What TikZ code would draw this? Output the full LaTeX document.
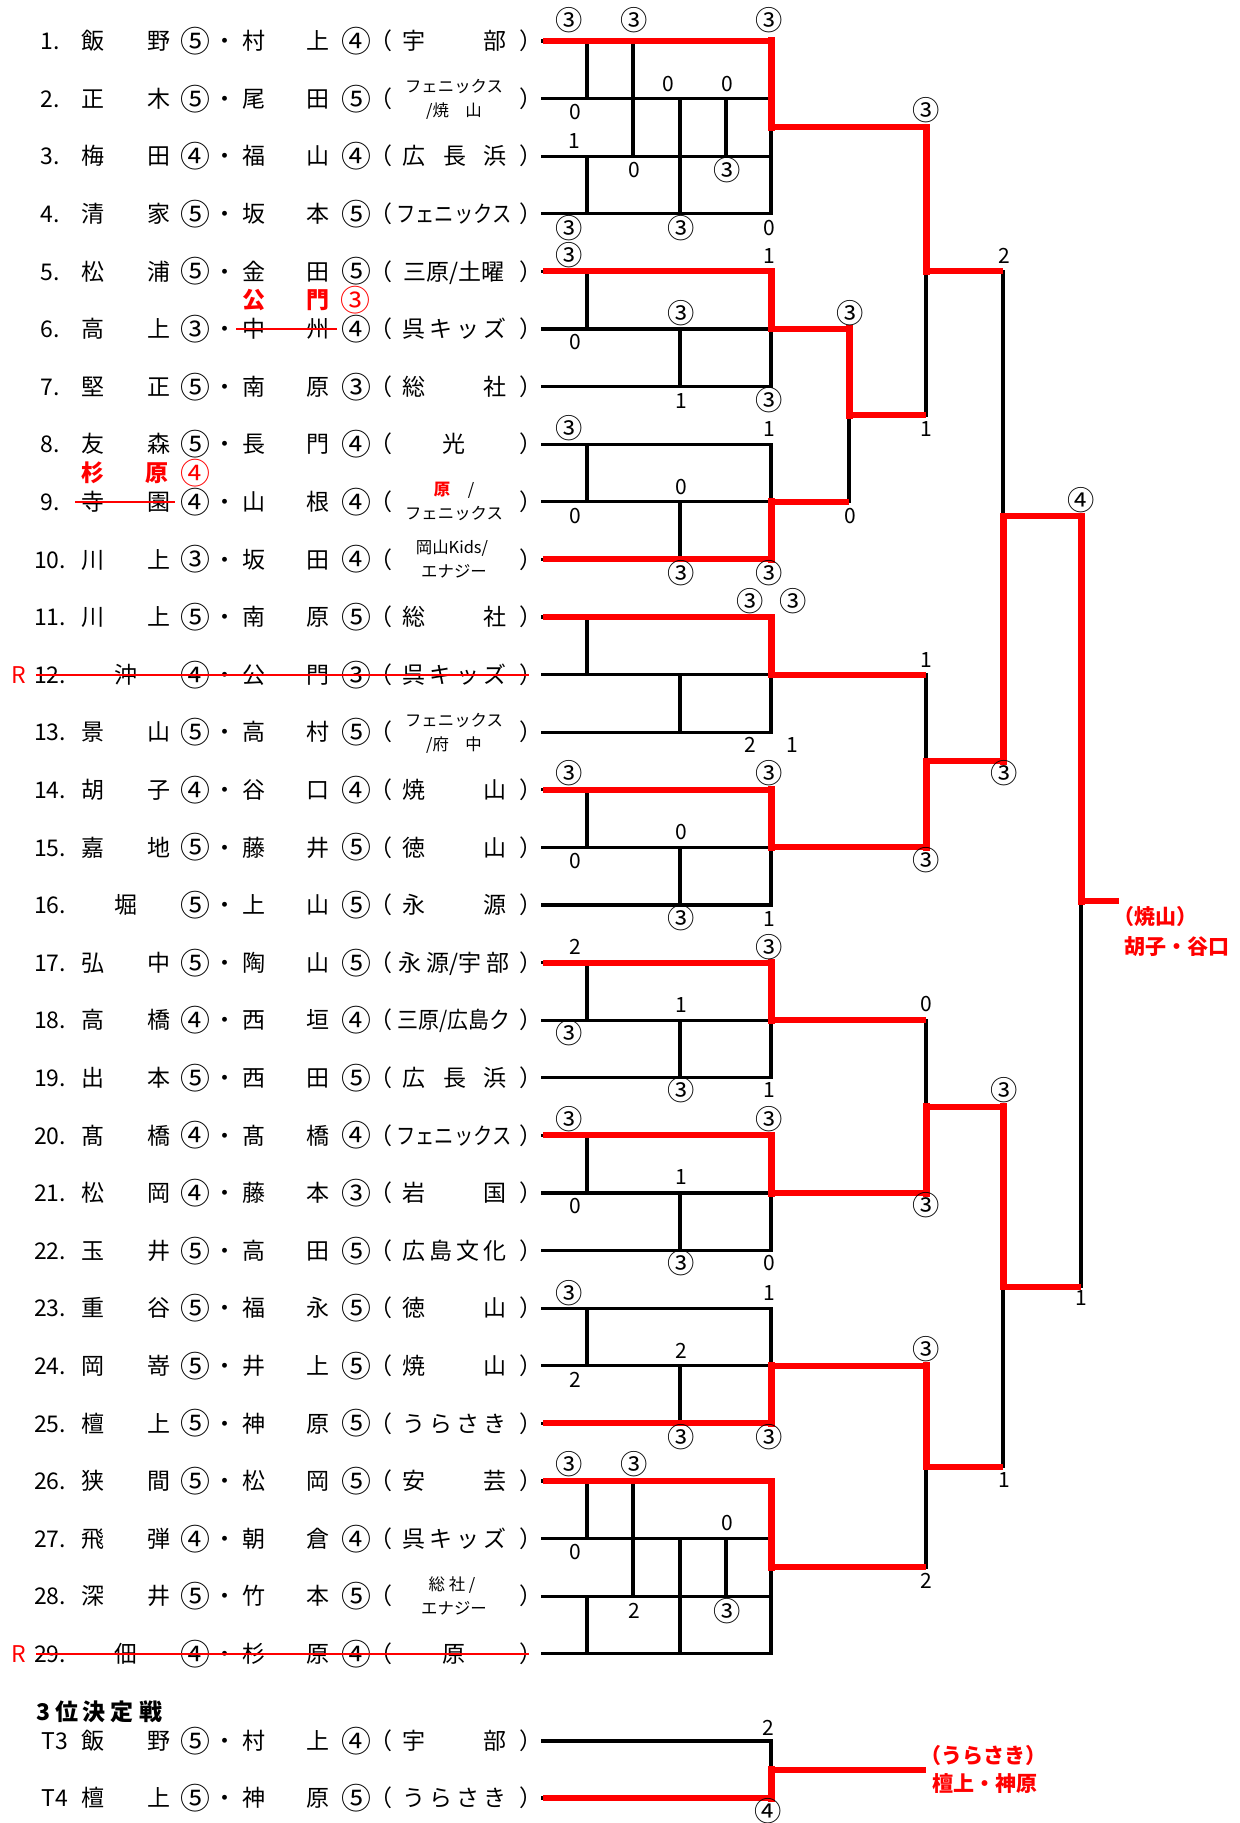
\documentclass[tikz,border=0pt]{standalone}
\usepackage{fontspec}
\setmainfont{Noto Sans CJK JP}
\usetikzlibrary{calc}

\definecolor{winred}{RGB}{255,0,0}
\newcommand\cc[1]{\raisebox{-0.12em}{\scalebox{1.3}{#1}}}

\tikzset{
  bline/.style={line width=1.6pt, line cap=rect},
  rh/.style={line width=3pt, draw=winred},
  rv/.style={line width=3.5pt, draw=winred, line cap=rect},
  strike/.style={line width=1pt, draw=winred},
  txt/.style={inner sep=0pt, text height=10.1pt, text depth=1.4pt,
    font=\fontsize{11.5}{13}\selectfont},
  score/.style={inner sep=0pt, text height=9.2pt, text depth=1.3pt,
    font=\fontsize{10.5}{12}\selectfont},
  small/.style={inner sep=0pt, text height=7.2pt, text depth=1pt,
    font=\fontsize{8.2}{9}\selectfont},
  fix/.style={txt, text=winred, font=\fontsize{11.5}{13}\selectfont\bfseries},
  result/.style={inner sep=0pt, anchor=west, text=winred,
    font=\fontsize{10.5}{12}\selectfont\bfseries},
}

\begin{document}
\begin{tikzpicture}[x=0.5pt,y=-0.5pt]
\useasboundingbox (0,0) rectangle (1239,1823);

% row ends (30 = T3, 31 = T4)
\foreach \rw in {1,...,31}{
  \pgfmathsetmacro\y{\rw<30 ? 41+(\rw-1)*57.6 : (\rw==30 ? 1741 : 1798)}
  \coordinate (l\rw) at (543,\y);
  \coordinate (g\rw) at (771,\y);
}
\coordinate (m1) at (587,0);
\coordinate (m2) at (633,0);
\coordinate (m3) at (680,0);
\coordinate (m4) at (726,0);
\coordinate (k2) at (849,0);
\coordinate (k3) at (926,0);
\coordinate (k4) at (1003,0);
\coordinate (k5) at (1081,0);
\coordinate (kw) at (1119,0);

% winners leave the leagues here
\coordinate (oA) at ($(g1)!.5!(g4)$);
\coordinate (oI) at ($(g26)!.5!(g29)$);
\coordinate (oT) at ($(g30)!.5!(g31)$);
\coordinate (q1) at ($(k2 |- g6)!.5!(k2 |- g9)$);
\coordinate (s1) at ($(k3 |- oA)!.5!(k3 |- q1)$);
\coordinate (s2) at ($(k3 |- g12)!.5!(k3 |- g15)$);
\coordinate (s3) at ($(k3 |- g18)!.5!(k3 |- g21)$);
\coordinate (s4) at ($(k3 |- g24)!.5!(k3 |- oI)$);
\coordinate (t1) at ($(k4 |- s1)!.5!(k4 |- s2)$);
\coordinate (t2) at ($(k4 |- s3)!.5!(k4 |- s4)$);
\coordinate (w) at ($(k5 |- t1)!.5!(k5 |- t2)$);

% black lines
\foreach \rw in {1,...,31}
  \draw[bline] (l\rw) -- (g\rw);
\foreach \ta/\tb/\tc in {5/6/7, 8/9/10, 11/12/13, 14/15/16, 17/18/19, 20/21/22, 23/24/25}{
  \draw[bline] (m1 |- l\ta) -- (m1 |- l\tb);
  \draw[bline] (m3 |- l\tb) -- (m3 |- l\tc);
  \draw[bline] (g\ta) -- (g\tc);
}
\foreach \ta/\tb/\tc/\td in {1/2/3/4, 26/27/28/29}{
  \draw[bline] (m1 |- l\ta) -- (m1 |- l\tb);
  \draw[bline] (m1 |- l\tc) -- (m1 |- l\td);
  \draw[bline] (m2 |- l\ta) -- (m2 |- l\tc);
  \draw[bline] (m3 |- l\tb) -- (m3 |- l\td);
  \draw[bline] (m4 |- l\tb) -- (m4 |- l\tc);
  \draw[bline] (g\ta) -- (g\td);
}
\draw[bline] (g30) -- (g31);
\draw[bline] (k2 |- g6) -- (k2 |- g9);
\draw[bline] (k3 |- oA) -- (k3 |- q1);
\draw[bline] (k3 |- g12) -- (k3 |- g15);
\draw[bline] (k3 |- g18) -- (k3 |- g21);
\draw[bline] (k3 |- g24) -- (k3 |- oI);
\draw[bline] (k4 |- s1) -- (k4 |- s2);
\draw[bline] (k4 |- s3) -- (k4 |- s4);
\draw[bline] (k5 |- t1) -- (k5 |- t2);

% red lines
\draw[rh] (l1) -- (g1);   \draw[rv] (g1) -- (oA);   \draw[rh] (oA) -- (k3 |- oA);
\draw[rv] (k3 |- oA) -- (s1);   \draw[rh] (s1) -- (k4 |- s1);
\draw[rh] (l5) -- (g5);   \draw[rv] (g5) -- (g6);   \draw[rh] (g6) -- (k2 |- g6);
\draw[rv] (k2 |- g6) -- (q1);   \draw[rh] (q1) -- (k3 |- q1);
\draw[rh] (l10) -- (g10); \draw[rv] (g10) -- (g9); \draw[rh] (g9) -- (k2 |- g9);
\draw[rh] (l11) -- (g11); \draw[rv] (g11) -- (g12); \draw[rh] (g12) -- (k3 |- g12);
\draw[rh] (l14) -- (g14); \draw[rv] (g14) -- (g15); \draw[rh] (g15) -- (k3 |- g15);
\draw[rv] (k3 |- g15) -- (s2);  \draw[rh] (s2) -- (k4 |- s2);
\draw[rv] (k4 |- s2) -- (t1);   \draw[rh] (t1) -- (k5 |- t1);
\draw[rv] (k5 |- t1) -- (w);    \draw[rh] (w) -- (kw |- w);
\draw[rh] (l17) -- (g17); \draw[rv] (g17) -- (g18); \draw[rh] (g18) -- (k3 |- g18);
\draw[rh] (l20) -- (g20); \draw[rv] (g20) -- (g21); \draw[rh] (g21) -- (k3 |- g21);
\draw[rv] (k3 |- g21) -- (s3);  \draw[rh] (s3) -- (k4 |- s3);
\draw[rv] (k4 |- s3) -- (t2);   \draw[rh] (t2) -- (k5 |- t2);
\draw[rh] (l25) -- (g25); \draw[rv] (g25) -- (g24); \draw[rh] (g24) -- (k3 |- g24);
\draw[rv] (k3 |- g24) -- (s4);  \draw[rh] (s4) -- (k4 |- s4);
\draw[rh] (l26) -- (g26); \draw[rv] (g26) -- (oI); \draw[rh] (oI) -- (k3 |- oI);
\draw[rh] (l31) -- (g31); \draw[rv] (g31) -- (oT); \draw[rh] (oT) -- (k3 |- oT);

% scores
\foreach \sx/\sy/\st [count=\n] in {
  569/20/\cc{③}, 634/20/\cc{③}, 769/20/\cc{③}, 668/84/0, 727/84/0, 575/112/0, 574/141/1,
  634/170/0, 727/170/\cc{③}, 569/228/\cc{③}, 681/228/\cc{③}, 769/228/0,
  926/110/\cc{③}, 926/429/1, 1004/256/2, 1004/773/\cc{③},
  569/255/\cc{③}, 769/256/1, 681/313/\cc{③}, 575/342/0, 681/401/1, 769/400/\cc{③},
  850/313/\cc{③}, 850/516/0,
  569/428/\cc{③}, 769/429/1, 681/487/0, 575/516/0, 681/573/\cc{③}, 769/573/\cc{③},
  750/601/\cc{③}, 793/601/\cc{③}, 926/660/1, 750/745/2, 792/745/1,
  569/773/\cc{③}, 769/773/\cc{③}, 681/832/0, 575/861/0, 926/860/\cc{③}, 681/918/\cc{③}, 769/919/1,
  575/947/2, 769/947/\cc{③}, 681/1005/1, 926/1004/0, 569/1033/\cc{③}, 681/1090/\cc{③}, 769/1090/1,
  1004/1090/\cc{③},
  569/1119/\cc{③}, 769/1119/\cc{③}, 681/1177/1, 575/1206/0, 926/1205/\cc{③}, 681/1263/\cc{③}, 769/1263/0,
  569/1293/\cc{③}, 769/1293/1, 681/1351/2, 575/1380/2, 926/1349/\cc{③}, 681/1437/\cc{③}, 769/1437/\cc{③},
  569/1464/\cc{③}, 634/1464/\cc{③}, 727/1523/0, 575/1552/0, 634/1611/2, 727/1611/\cc{③}, 926/1581/2,
  1004/1480/1, 1081/500/\cc{④}, 1081/1298/1, 768/1728/2, 768/1811/\cc{④}}
  \node[score] (sc\n) at (\sx,\sy) {\st};

% players
\foreach \rw in {1,...,31}{
  \pgfmathsetmacro\y{\rw<30 ? 41+(\rw-1)*57.6 : (\rw==30 ? 1741 : 1798)}
  \node[txt] (dt\rw) at (225,\y) {・};
  \node[txt] (lp\rw) at (381,\y) {（};
  \node[txt] (rp\rw) at (531,\y) {）};
}
\foreach \rw in {1,...,29}{
  \pgfmathsetmacro\y{41+(\rw-1)*57.6}
  \node[txt] (no\rw) at (50,\y) {\rw.};
}
\node[txt] (no30) at (55,1741) {T3};
\node[txt] (no31) at (55,1798) {T4};
\foreach \rw/\xa/\xb/\xg/\ya/\yb/\yg in {
  1/飯/野/⑤/村/上/④, 2/正/木/⑤/尾/田/⑤, 3/梅/田/④/福/山/④,
  4/清/家/⑤/坂/本/⑤, 5/松/浦/⑤/金/田/⑤, 6/高/上/③/中/州/④,
  7/堅/正/⑤/南/原/③, 8/友/森/⑤/長/門/④, 9/寺/園/④/山/根/④,
  10/川/上/③/坂/田/④, 11/川/上/⑤/南/原/⑤, 13/景/山/⑤/高/村/⑤,
  14/胡/子/④/谷/口/④, 15/嘉/地/⑤/藤/井/⑤, 17/弘/中/⑤/陶/山/⑤,
  18/高/橋/④/西/垣/④, 19/出/本/⑤/西/田/⑤, 20/髙/橋/④/髙/橋/④,
  21/松/岡/④/藤/本/③, 22/玉/井/⑤/高/田/⑤, 23/重/谷/⑤/福/永/⑤,
  24/岡/嵜/⑤/井/上/⑤, 25/檀/上/⑤/神/原/⑤, 26/狭/間/⑤/松/岡/⑤,
  27/飛/弾/④/朝/倉/④, 28/深/井/⑤/竹/本/⑤,
  30/飯/野/⑤/村/上/④, 31/檀/上/⑤/神/原/⑤}{
  \pgfmathsetmacro\y{\rw<30 ? 41+(\rw-1)*57.6 : (\rw==30 ? 1741 : 1798)}
  \node[txt] (fa\rw) at (93,\y) {\xa};
  \node[txt] (fb\rw) at (159,\y) {\xb};
  \node[txt] (fg\rw) at (195,\y) {\cc{\xg}};
  \node[txt] (sa\rw) at (254,\y) {\ya};
  \node[txt] (sb\rw) at (318,\y) {\yb};
  \node[txt] (sg\rw) at (356,\y) {\cc{\yg}};
}
\foreach \rw/\xa/\xg/\ya/\yb/\yg in {12/沖/④/公/門/③, 16/堀/⑤/上/山/⑤, 29/佃/④/杉/原/④}{
  \pgfmathsetmacro\y{41+(\rw-1)*57.6}
  \node[txt] (fa\rw) at (126,\y) {\xa};
  \node[txt] (fg\rw) at (195,\y) {\cc{\xg}};
  \node[txt] (sa\rw) at (254,\y) {\ya};
  \node[txt] (sb\rw) at (318,\y) {\yb};
  \node[txt] (sg\rw) at (356,\y) {\cc{\yg}};
}

% clubs
\foreach \rw/\cn/\cl in {1/2/{宇,部}, 7/2/{総,社}, 11/2/{総,社}, 14/2/{焼,山},
  15/2/{徳,山}, 16/2/{永,源}, 21/2/{岩,国}, 23/2/{徳,山}, 24/2/{焼,山},
  26/2/{安,芸}, 30/2/{宇,部}, 3/3/{広,長,浜}, 19/3/{広,長,浜},
  6/4/{呉,キ,ッ,ズ}, 12/4/{呉,キ,ッ,ズ}, 22/4/{広,島,文,化},
  25/4/{う,ら,さ,き}, 27/4/{呉,キ,ッ,ズ}, 31/4/{う,ら,さ,き}}{
  \pgfmathsetmacro\y{\rw<30 ? 41+(\rw-1)*57.6 : (\rw==30 ? 1741 : 1798)}
  \foreach \ch [count=\k from 0] in \cl
    \node[txt] (cl\rw-\k) at ({414+\k*81/(\cn-1)},\y) {\ch};
}
\node[txt] (cl8) at (454,444.2) {光};
\node[txt] (cl29) at (454,1653.8) {原};
\node[txt] (cl4) at (454,213.8) {\scalebox{0.84}[1]{フェニックス}};
\node[txt] (cl20) at (454,1135.4) {\scalebox{0.84}[1]{フェニックス}};
\node[txt] (cl5) at (454,271.4) {三原/土曜};
\node[txt] (cl17) at (454,962.6) {永 源/宇 部};
\node[txt] (cl18) at (454,1020.2) {\scalebox{0.91}[1]{三原/広島ク}};
\node[small] (cl2a) at (454,86.6) {フェニックス};
\node[small] (cl2b) at (454,110.6) {/焼　山};
\node[small, text=winred, font=\fontsize{8.2}{9}\selectfont\bfseries] (cl9a) at (442,489.8) {原};
\node[small] (cl9b) at (471,489.8) {/};
\node[small] (cl9c) at (454,513.8) {フェニックス};
\node[small] (cl10a) at (452,547.4) {岡山Kids/};
\node[small] (cl10b) at (454,571.4) {エナジー};
\node[small] (cl13a) at (454,720.2) {フェニックス};
\node[small] (cl13b) at (454,744.2) {/府　中};
\node[small] (cl28a) at (452,1584.2) {総 社 /};
\node[small] (cl28b) at (454,1608.2) {エナジー};

% changes of partner and retirements
\node[fix] (fx6a) at (254,300) {公};
\node[fix] (fx6b) at (318,300) {門};
\node[txt, text=winred] (fx6c) at (355,300) {\cc{③}};
\draw[strike] (236,329) -- (337,329);
\node[fix] (fx9a) at (93,473) {杉};
\node[fix] (fx9b) at (157,473) {原};
\node[txt, text=winred] (fx9c) at (195,473) {\cc{④}};
\draw[strike] (75,501.8) -- (175,501.8);
\node[txt, text=winred] (rt12) at (19,674.6) {R};
\draw[strike] (36,674.6) -- (529,674.6);
\node[txt, text=winred] (rt29) at (19,1653.8) {R};
\draw[strike] (36,1653.8) -- (529,1653.8);

% third place heading
\foreach \hx/\hc [count=\n] in {44/3, 67/位, 94/決, 122/定, 151/戦}
  \node[txt, font=\fontsize{11.5}{13}\selectfont\bfseries] (hd\n) at (\hx,1712) {\hc};

% results
\node[result] (champ1) at (1113,917) {（焼山）};
\node[result] (champ2) at (1124,947) {胡子・谷口};
\node[result] (third1) at (920,1755) {（うらさき）};
\node[result] (third2) at (932,1784) {檀上・神原};
\end{tikzpicture}
\end{document}
